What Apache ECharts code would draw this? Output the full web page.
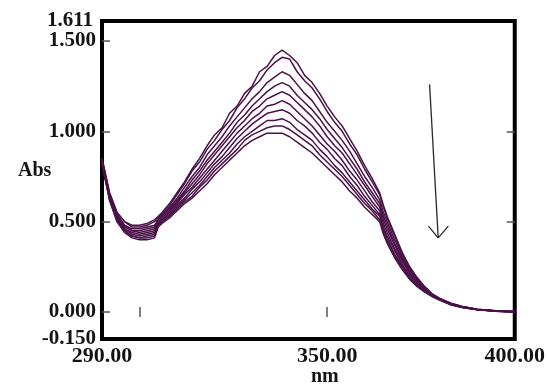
<!DOCTYPE html>
<html>
<head>
<meta charset="utf-8">
<script src="https://cdn.jsdelivr.net/npm/echarts@6/dist/echarts.min.js"></script>
<style>
html,body{margin:0;padding:0;background:#fff;}
#chart{width:548px;height:388px;}
</style>
</head>
<body>
<div id="chart"></div>
<script>
var wavelength = [290,292,294,296,298,300,302,304,305,306,308,310,312,314,316,318,320,322,324,326,328,330,332,334,336,338,340,342,344,346,348,350,352,354,356,358,360,362,364,365,366,368,370,372,374,376,378,380,383,386,390,395,400];

var curveA = [.85,.66,.55,.50,.48,.48,.49,.51,.53,.55,.60,.66,.72,.79,.85,.92,.98,1.02,1.10,1.14,1.21,1.25,1.33,1.36,1.42,1.45,1.42,1.38,1.31,1.27,1.21,1.14,1.08,1.03,.96,.89,.81,.74,.66,.59,.53,.43,.33,.25,.19,.14,.10,.075,.048,.03,.015,.006,.002];
var curveB = [.85,.66,.55,.50,.47,.47,.48,.50,.52,.54,.59,.65,.71,.78,.83,.90,.95,1.01,1.06,1.13,1.18,1.24,1.28,1.34,1.38,1.41,1.40,1.33,1.28,1.24,1.18,1.11,1.05,1.00,.93,.87,.79,.72,.65,.58,.52,.42,.32,.245,.185,.138,.098,.074,.047,.030,.015,.006,.002];
var curveC = [.84,.65,.54,.48,.46,.46,.47,.48,.51,.53,.58,.63,.69,.75,.80,.87,.92,.97,1.03,1.08,1.13,1.18,1.22,1.27,1.30,1.33,1.31,1.26,1.21,1.17,1.11,1.05,1.00,.95,.89,.82,.75,.69,.62,.55,.50,.40,.31,.235,.18,.134,.096,.072,.046,.029,.014,.005,.002];
var curveD = [.84,.64,.53,.48,.45,.45,.46,.47,.51,.53,.57,.62,.67,.73,.78,.84,.89,.94,.99,1.05,1.09,1.14,1.18,1.22,1.25,1.27,1.25,1.20,1.16,1.12,1.07,1.01,.96,.91,.85,.79,.72,.66,.60,.53,.48,.38,.30,.23,.175,.131,.094,.071,.045,.028,.014,.005,.001];
var curveE = [.83,.64,.53,.47,.45,.44,.45,.46,.50,.52,.56,.61,.66,.71,.76,.82,.87,.92,.97,1.02,1.06,1.11,1.14,1.18,1.20,1.22,1.20,1.16,1.12,1.08,1.03,.97,.92,.88,.82,.76,.70,.64,.58,.51,.46,.37,.29,.22,.17,.127,.092,.070,.044,.028,.014,.005,.001];
var curveF = [.83,.64,.52,.46,.44,.43,.44,.45,.49,.51,.55,.60,.65,.69,.74,.79,.84,.89,.94,.99,1.03,1.07,1.10,1.14,1.15,1.17,1.15,1.11,1.07,1.03,.98,.93,.89,.84,.78,.73,.67,.61,.56,.49,.44,.35,.28,.21,.163,.123,.090,.069,.043,.027,.013,.005,.001];
var curveG = [.83,.63,.51,.46,.43,.42,.43,.44,.49,.51,.54,.59,.63,.68,.72,.77,.82,.86,.91,.96,1.00,1.04,1.07,1.10,1.11,1.12,1.10,1.06,1.03,.99,.94,.90,.85,.81,.75,.70,.64,.59,.54,.47,.42,.34,.265,.20,.157,.119,.089,.068,.042,.026,.013,.005,.001];
var curveH = [.83,.63,.51,.45,.42,.41,.42,.43,.48,.50,.53,.58,.62,.66,.70,.75,.80,.84,.88,.93,.97,1.00,1.03,1.06,1.06,1.07,1.05,1.01,.98,.95,.90,.86,.81,.77,.72,.67,.62,.57,.53,.455,.405,.32,.255,.19,.150,.115,.087,.067,.041,.026,.013,.004,.000];
var curveI = [.82,.62,.50,.45,.42,.41,.41,.42,.48,.50,.53,.57,.61,.64,.69,.73,.78,.82,.86,.90,.95,.98,1.00,1.02,1.03,1.03,1.01,.98,.95,.92,.87,.83,.79,.75,.70,.65,.60,.56,.51,.44,.39,.31,.245,.185,.145,.112,.086,.066,.040,.025,.012,.004,.000];
var curveJ = [.82,.62,.50,.44,.41,.40,.40,.41,.47,.49,.52,.56,.60,.63,.67,.71,.76,.80,.84,.88,.92,.95,.97,.99,.99,.99,.97,.94,.91,.88,.84,.80,.76,.72,.67,.63,.58,.54,.50,.43,.38,.30,.235,.18,.14,.11,.085,.065,.04,.025,.012,.004,.000];

var curves = [curveA,curveB,curveC,curveD,curveE,curveF,curveG,curveH,curveI,curveJ];

var yLabelValues = [-0.15, 0, 0.5, 1.0, 1.5];
var yTopLabelValues = [1.611];
var yTickValues = [0, 0.5, 1.0, 1.5];
var yRightTickValues = [0.5, 1.0];
var xLabelValues = [290, 350, 400];
var xTickValues = [300, 350];

var arrowShaft = [[377.3, 1.26], [379.6, 0.41]];
var arrowHead = [[377.0, 0.475], [379.6, 0.41], [382.3, 0.475]];

var lineColor = '#4a1249';
var font = 'Liberation Serif';
var txtColor = '#141414';

var series = curves.map(function (c, k) {
  return {
    type: 'line',
    name: 'c' + k,
    xAxisIndex: 0, yAxisIndex: 0,
    data: wavelength.map(function (w, i) { return [w, c[i]]; }),
    showSymbol: false,
    symbol: 'none',
    lineStyle: { color: lineColor, width: 1.5 },
    silent: true,
    z: 2
  };
});
series.push({
  type: 'line', data: arrowShaft, showSymbol: false, symbol: 'none',
  lineStyle: { color: '#2a2a2a', width: 1.3 }, silent: true, z: 3
});
series.push({
  type: 'line', data: arrowHead, showSymbol: false, symbol: 'none',
  lineStyle: { color: '#2a2a2a', width: 1.3 }, silent: true, z: 3
});

var labelStyle = {
  fontFamily: font, fontWeight: 'bold', fontSize: 21, color: txtColor
};

var chart = echarts.init(document.getElementById('chart'), null, { renderer: 'canvas' });
chart.setOption({
  animation: false,
  backgroundColor: '#fff',
  grid: {
    left: 102, right: 30.5, top: 21, bottom: 49,
    show: true, borderColor: '#000', borderWidth: 4, backgroundColor: 'transparent'
  },
  xAxis: [{
    type: 'value', min: 290, max: 400, position: 'bottom',
    axisLine: { show: false },
    splitLine: { show: false },
    axisTick: { show: true, inside: true, length: 5, customValues: xTickValues, lineStyle: { color: '#555', width: 1.5 } },
    axisLabel: {
      customValues: xLabelValues, margin: 6, hideOverlap: false,
      fontFamily: font, fontWeight: 'bold', fontSize: 22, color: txtColor,
      formatter: function (v) { return v.toFixed(2); }
    }
  }, {
    type: 'value', min: 290, max: 400, position: 'top',
    axisLine: { show: false }, splitLine: { show: false },
    axisTick: { show: true, inside: true, length: 5, customValues: xTickValues, lineStyle: { color: '#555', width: 1.5 } },
    axisLabel: { show: false }
  }],
  yAxis: [{
    type: 'value', min: -0.15, max: 1.611, position: 'left',
    axisLine: { show: false }, splitLine: { show: false },
    axisTick: { show: true, inside: true, length: 8, customValues: yTickValues, lineStyle: { color: '#555', width: 1.5 } },
    axisLabel: Object.assign({
      customValues: yLabelValues, margin: 6, hideOverlap: false,
      formatter: function (v) { return v.toFixed(3); }
    }, labelStyle)
  }, {
    type: 'value', min: -0.15, max: 1.611, position: 'left', offset: 0,
    axisLine: { show: false }, splitLine: { show: false },
    axisTick: { show: false },
    axisLabel: Object.assign({
      customValues: yTopLabelValues, margin: 9, hideOverlap: false,
      formatter: function (v) { return v.toFixed(3); }
    }, labelStyle)
  }, {
    type: 'value', min: -0.15, max: 1.611, position: 'right',
    axisLine: { show: false }, splitLine: { show: false },
    axisTick: { show: true, inside: true, length: 8, customValues: yRightTickValues, lineStyle: { color: '#555', width: 1.5 } },
    axisLabel: { show: false }
  }],
  graphic: [{
    type: 'text', left: 18, top: 161,
    style: { text: 'Abs', font: 'bold 20px "Liberation Serif"', fill: txtColor }
  }, {
    type: 'text', left: 311, top: 367,
    style: { text: 'nm', font: 'bold 20px "Liberation Serif"', fill: txtColor }
  }],
  series: series
});
</script>
</body>
</html>
